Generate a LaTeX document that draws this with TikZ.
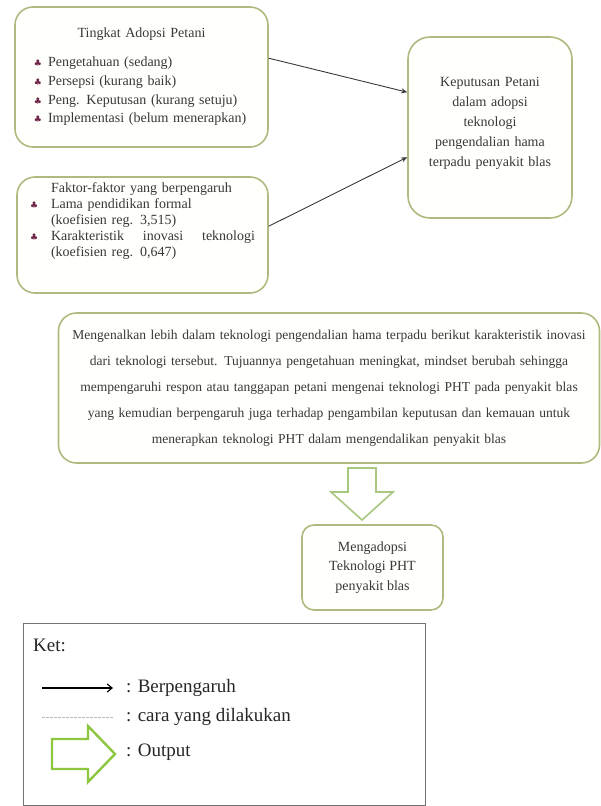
\documentclass[tikz,border=0pt]{standalone}
\usepackage{fontspec}
\setmainfont{Liberation Serif}
\newfontfamily\symfont{DejaVu Sans}
\usetikzlibrary{calc,arrows.meta}
\definecolor{boxline}{HTML}{AEBB80}
\definecolor{boxfill}{HTML}{FFFFFB}
\definecolor{txt}{HTML}{383838}
\definecolor{bul}{HTML}{6E2248}
\definecolor{hollow}{HTML}{A9C77E}
\definecolor{legarrow}{HTML}{8DC63F}
\newcommand{\bulsym}{{\symfont\color{bul}\fontsize{9}{9}\selectfont ♣}}
\begin{document}
\begin{tikzpicture}[x=1pt,y=-1pt,
  gbox/.style={draw=boxline, line width=1.6pt, fill=boxfill, rounded corners=18pt, inner sep=0pt, text=txt},
  link/.style={draw=txt, line width=0.9pt, -{Stealth[length=6pt,width=5pt]}},
  legtext/.style={anchor=west, inner sep=0pt, text=black!85, font=\fontsize{19}{19}\selectfont}]
\useasboundingbox (0,0) rectangle (600,806);

% Tingkat adopsi
\node[gbox, minimum width=253pt, minimum height=140pt, text width=215pt, font=\fontsize{14}{18.7}\selectfont] (adopsi) at (141.5,77)
 {{\centering Tingkat Adopsi Petani\par}\vspace{10pt}\raggedright
  \makebox[14pt][l]{\bulsym}Pengetahuan (sedang)\\
  \makebox[14pt][l]{\bulsym}Persepsi (kurang baik)\\
  \makebox[14pt][l]{\bulsym}Peng. Keputusan (kurang setuju)\\
  \makebox[14pt][l]{\bulsym}Implementasi (belum menerapkan)\par};

% Faktor
\node[gbox, minimum width=251pt, minimum height=116pt, text width=225pt, font=\fontsize{14}{16}\selectfont] (faktor) at (142.5,235)
 {\raggedright
  \hspace*{21pt}Faktor-faktor yang berpengaruh\\
  \makebox[21pt][l]{\bulsym}Lama pendidikan formal\\
  \hspace*{21pt}(koefisien reg. 3,515)\\
  \makebox[21pt][l]{\bulsym}\makebox[204pt][l]{Karakteristik\hfill inovasi\hfill teknologi}\\
  \hspace*{21pt}(koefisien reg. 0,647)\par\vspace*{28pt}};

% Keputusan
\node[gbox, rounded corners=22pt, minimum width=164pt, minimum height=181pt, text width=150pt, align=center, font=\fontsize{14}{20}\selectfont] (keputusan) at (490,127.5)
 {Keputusan Petani\\ dalam adopsi\\ teknologi\\ pengendalian hama\\ terpadu penyakit blas\par\vspace*{8pt}};

% Big box
\node[gbox, minimum width=541pt, minimum height=150pt, text width=537pt, align=center, font=\fontsize{13.55}{26}\selectfont] (cara) at (329,388)
 {Mengenalkan lebih dalam teknologi pengendalian hama terpadu berikut karakteristik inovasi\\
  dari teknologi tersebut. Tujuannya pengetahuan meningkat, mindset berubah sehingga\\
  mempengaruhi respon atau tanggapan petani mengenai teknologi PHT pada penyakit blas\\
  yang kemudian berpengaruh juga terhadap pengambilan keputusan dan kemauan untuk\\
  menerapkan teknologi PHT dalam mengendalikan penyakit blas\par};

% Mengadopsi
\node[gbox, rounded corners=12pt, minimum width=141pt, minimum height=85pt, align=center, font=\fontsize{14}{19.5}\selectfont] (mengadopsi) at (372.5,567.5)
 {Mengadopsi\\ Teknologi PHT\\ penyakit blas};

% connectors
\draw[link] ($(adopsi.north east)+(0,52)$) -- ($(keputusan.north west)+(0,56)$);
\draw[link] ($(faktor.north east)+(0,50)$) -- ($(keputusan.north west)+(0,121)$);
\draw[gray!70, line width=0.7pt, dash pattern=on 2pt off 1.5pt] ($(keputusan.south)+(7,0)$) -- ($(keputusan.south)+(7,0)$ |- cara.north);

% hollow output arrow
\draw[hollow, line width=1.6pt, fill=white, line join=miter]
  (348,468) -- (376,468) -- (376,492) -- (393,492) -- (362,520) -- (331,492) -- (348,492) -- cycle;

% legend
\node[draw=black!55, line width=1pt, minimum width=402pt, minimum height=182pt, inner sep=0pt] (ket) at (224,714) {};
\node[legtext] (ketlbl) at (33,645) {Ket:};
\coordinate (l1a) at (42,688);
\coordinate (l1b) at (113,688);
\draw[draw=black, line width=1.1pt, -{Straight Barb[length=5pt,width=8pt]}] (l1a) -- (l1b);
\node[legtext] (l1t) at (126,688) {: Berpengaruh};
\coordinate (l2a) at (42,717);
\coordinate (l2b) at (113,717);
\draw[gray!55, line width=0.7pt, dash pattern=on 3pt off 1pt] (l2a) -- (l2b);
\node[legtext] (l2t) at (126,717) {: cara yang dilakukan};
\draw[legarrow, line width=2.4pt, fill=white, line join=miter]
  (52,739) -- (88,739) -- (88,726) -- (115,754) -- (88,782) -- (88,769) -- (52,769) -- cycle;
\node[legtext] (l3t) at (126,752) {: Output};
\end{tikzpicture}
\end{document}
